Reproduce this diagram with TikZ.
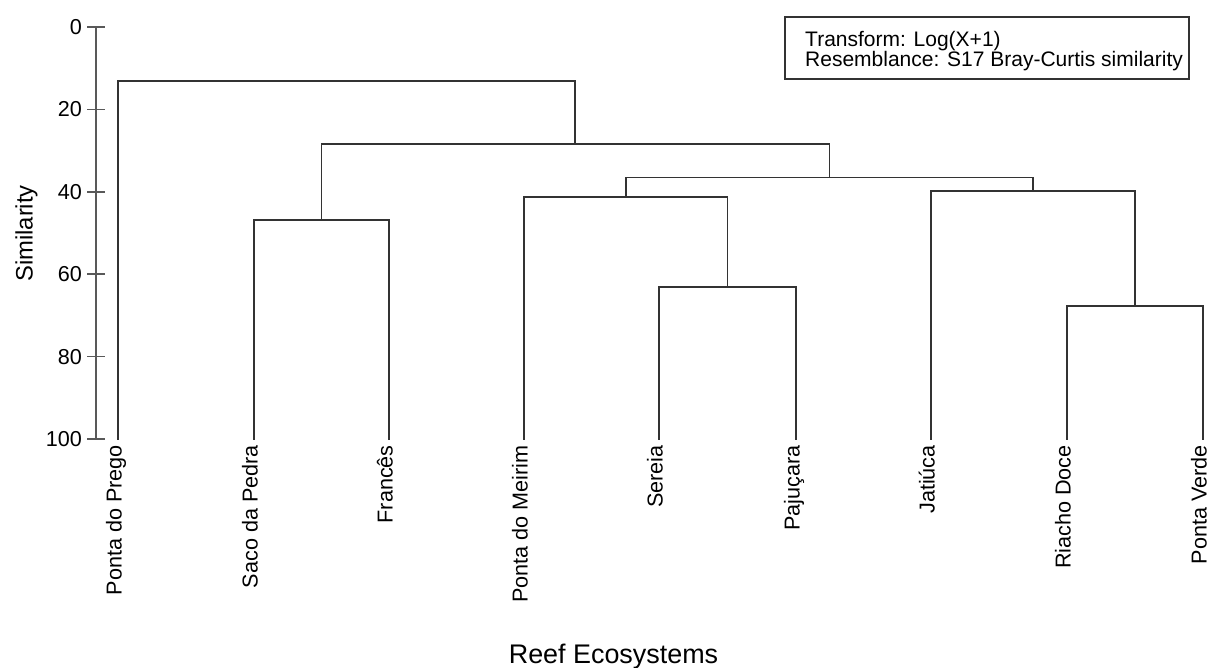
\documentclass[tikz,border=0pt]{standalone}
\usepackage{fontspec}
\setmainfont{Liberation Sans}
\begin{document}
\begin{tikzpicture}[x=1pt,y=-1pt,
  link/.style={draw=black!80,line width=1.7pt,line cap=rect},
  axisline/.style={draw=black!65,line width=1.5pt},
  leaflab/.style={rotate=90,anchor=east,inner sep=0pt,text height=0.72em,text depth=0pt,font=\fontsize{21.6}{24}\selectfont},
  ticklab/.style={anchor=east,inner sep=0pt,font=\fontsize{21.6}{24}\selectfont},
  legtext/.style={anchor=base west,inner sep=0pt,font=\fontsize{21}{20}\selectfont}]
\useasboundingbox (0,0) rectangle (1213,668);
% axis
\coordinate (ax0) at (96,27);
\coordinate (ax100) at (96,439);
\draw[axisline] (ax0) -- (ax100);
\foreach \v/\y in {0/27,20/109.4,40/191.8,60/274.2,80/356.6,100/439}{
  \coordinate (tl\v) at (87,\y);
  \coordinate (tr\v) at (105,\y);
  \draw[axisline] (tl\v) -- (tr\v);
  \node[ticklab] (tick\v) at (82,\y) {\v};
}
\node[rotate=90,anchor=base,inner sep=0pt,font=\fontsize{23.8}{26}\selectfont] (ylab) at (32.5,233.5) {Similarity};
\node[anchor=base,inner sep=0pt,font=\fontsize{26.9}{30}\selectfont] (xlab) at (613.5,663) {Reef Ecosystems};
% leaves
\foreach \n/\x/\t in {a/118/Ponta do Prego,b/254/Saco da Pedra,c/389/Francês,d/524/Ponta do Meirim,e/659/Sereia,f/796/Pajuçara,g/931/Jatiúca,h/1067/Riacho Doce,i/1203/Ponta Verde}{
  \coordinate (\n) at (\x,439);
  \node[leaflab] (lab\n) at (\x,445) {\t};
}
% merges
\coordinate (mbc) at (321.5,220);
\coordinate (mef) at (727.5,287);
\coordinate (mhi) at (1135,306);
\coordinate (mdef) at (625.75,197);
\coordinate (mghi) at (1033,191);
\coordinate (mr) at (829.4,177.5);
\coordinate (mbr) at (575.2,144);
\coordinate (mall) at (346.6,81);
\draw[link] (b) |- (mbc) -| (c);
\draw[link] (e) |- (mef) -| (f);
\draw[link] (h) |- (mhi) -| (i);
\draw[link] (d) |- (mdef) -| (mef);
\draw[link] (g) |- (mghi) -| (mhi);
\draw[link] (mdef) |- (mr) -| (mghi);
\draw[link] (mbc) |- (mbr) -| (mr);
\draw[link] (a) |- (mall) -| (mbr);
% legend
\node[draw=black!80,line width=1.5pt,minimum width=404pt,minimum height=62pt,inner sep=0pt] (legend) at (987,48) {};
\node[legtext] (leg1) at (805,46.5) {Transform: Log(X+1)};
\node[legtext] (leg2) at (805,66.5) {Resemblance: S17 Bray-Curtis similarity};
\end{tikzpicture}
\end{document}
